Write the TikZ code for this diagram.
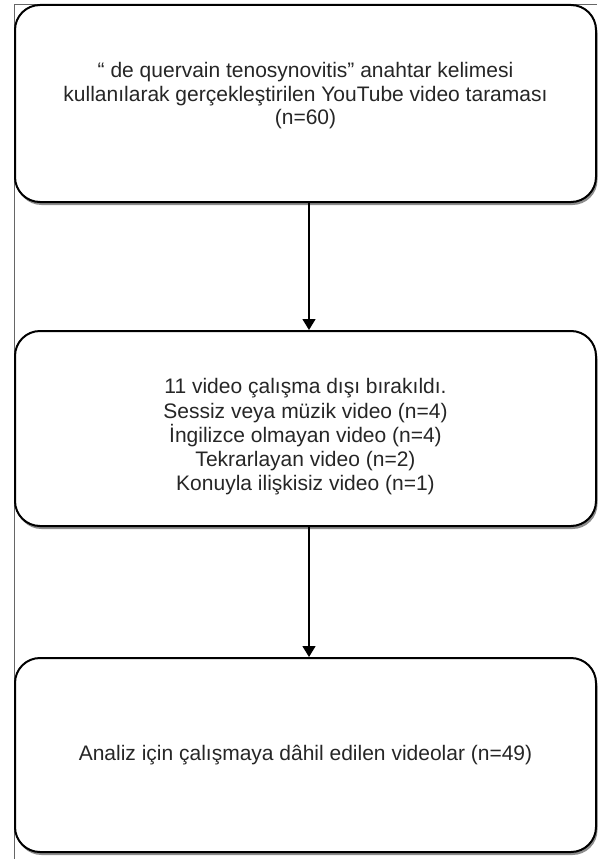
\documentclass[tikz,border=0pt]{standalone}
\usepackage{fontspec}
\setmainfont{Liberation Sans}
\usetikzlibrary{arrows.meta,shadows}
\tikzset{
  stagebox/.style={draw=black,line width=2pt,rounded corners=25pt,fill=white,
    align=center,inner sep=0pt,minimum width=581pt,
    font=\fontsize{21}{24.2}\selectfont,text=black!85,
    drop shadow={shadow xshift=1.5pt,shadow yshift=-3pt,fill=black!45,opacity=1}},
  flowarrow/.style={line width=1.5pt,-{Triangle[length=11pt,width=13pt]}}
}
\begin{document}
\begin{tikzpicture}[x=1pt,y=-1pt]
            \useasboundingbox (0,0) rectangle (597,859);
            % frame
            \draw[black!60,line width=1pt] (14,859) -- (14,5) -- (597,5);
            % boxes
            \node[stagebox,minimum height=197pt] (search) at (305.5,103.5)
              {“ de quervain tenosynovitis” anahtar kelimesi\\[-1pt]
               kullanılarak gerçekleştirilen YouTube video taraması\\[-1pt]
               (n=60)\\[-4pt]};
            \node[stagebox,minimum height=195pt] (excluded) at (305.5,428.5)
              {\\[8pt]11 video çalışma dışı bırakıldı.\\
               Sessiz veya müzik video (n=4)\\
               İngilizce olmayan video (n=4)\\
               Tekrarlayan video (n=2)\\
               Konuyla ilişkisiz video (n=1)};
            \node[stagebox,minimum height=194pt] (included) at (305.5,755)
              {Analiz için çalışmaya dâhil edilen videolar (n=49)};
            % arrows
            \coordinate (axis) at (309,0);
            \draw[flowarrow] (search.south -| axis) -- (excluded.north -| axis);
            \draw[flowarrow] (excluded.south -| axis) -- (included.north -| axis);
\end{tikzpicture}
\end{document}
